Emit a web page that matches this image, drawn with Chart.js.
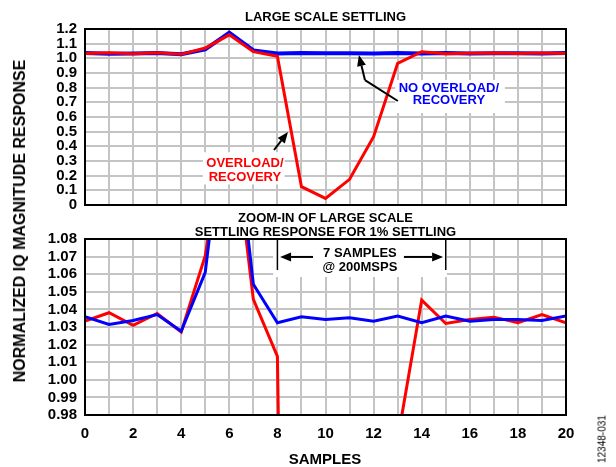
<!DOCTYPE html>
<html>
<head>
<meta charset="utf-8">
<script src="https://cdn.jsdelivr.net/npm/chart.js@4.4.1/dist/chart.umd.min.js"></script>
<style>
  body { margin: 0; background: #fff; }
  #wrap { position: relative; width: 616px; height: 467px; overflow: hidden;
          font-family: "Liberation Sans", Arial, sans-serif; }
  #chartTop { position: absolute; left: 0; top: 0; }
  #chartZoom { position: absolute; left: 0; top: 207px; }
  .lbl { position: absolute; font-weight: bold; color: #000; white-space: nowrap; }
  #yTitle { left: 20px; top: 221px; font-size: 16px; transform: translate(-50%, -50%) rotate(-90deg); }
  #xTitle { left: 325px; top: 458px; font-size: 15px; transform: translate(-50%, -50%); }
  #figId { left: 602px; top: 439px; font-size: 10px; font-weight: normal;
           transform: translate(-50%, -50%) rotate(-90deg); }
</style>
</head>
<body>
<div id="wrap">
  <canvas id="chartTop" width="616" height="227"></canvas>
  <canvas id="chartZoom" width="616" height="260"></canvas>
  <div class="lbl" id="yTitle">NORMALIZED IQ MAGNITUDE RESPONSE</div>
  <div class="lbl" id="xTitle">SAMPLES</div>
  <div class="lbl" id="figId">12348-031</div>
</div>
<script>
// datos
const muestras = [0, 1, 2, 3, 4, 5, 6, 7, 8, 9, 10, 11, 12, 13, 14, 15, 16, 17, 18, 19, 20];
const conSobrecarga = [1.0333, 1.0381, 1.0310, 1.0377, 1.0272, 1.0705, 1.160, 1.0457, 1.0133, 0.125,
  0.045, 0.175, 0.466, 0.966, 1.0453, 1.0320, 1.0343, 1.0356, 1.0324, 1.0371, 1.0324];
const sinSobrecarga = [1.0358, 1.0314, 1.0337, 1.0371, 1.0276, 1.0610, 1.175, 1.0543, 1.0324, 1.0358,
  1.0343, 1.0352, 1.0333, 1.0362, 1.0324, 1.0362, 1.0333, 1.0343, 1.0343, 1.0337, 1.0362];
const ticksGrande = [0, 0.1, 0.2, 0.3, 0.4, 0.5, 0.6, 0.7, 0.8, 0.9, 1.0, 1.1, 1.2];
const ticksZoom = [0.98, 0.99, 1.00, 1.01, 1.02, 1.03, 1.04, 1.05, 1.06, 1.07, 1.08];
const ticksX = [0, 2, 4, 6, 8, 10, 12, 14, 16, 18, 20];

const ROJO = '#ff0000';
const AZUL = '#0000ff';
const GRIS = '#c4c4c4';
const FUENTE = '"Liberation Sans", Arial, sans-serif';

function puntos(serie) {
  return muestras.map((m, i) => ({ x: m, y: serie[i] }));
}

function serie(label, datos, color, grosor) {
  return {
    label: label,
    data: puntos(datos),
    borderColor: color,
    borderWidth: grosor,
    pointRadius: 0,
    tension: 0,
    clip: 0
  };
}

function flecha(ctx, x1, y1, x2, y2) {
  const ang = Math.atan2(y2 - y1, x2 - x1);
  const largo = 11, ancho = 4.5;
  const bx = x2 - largo * Math.cos(ang), by = y2 - largo * Math.sin(ang);
  ctx.beginPath();
  ctx.moveTo(x1, y1);
  ctx.lineTo(bx, by);
  ctx.stroke();
  ctx.beginPath();
  ctx.moveTo(x2, y2);
  ctx.lineTo(bx + ancho * Math.sin(ang), by - ancho * Math.cos(ang));
  ctx.lineTo(bx - ancho * Math.sin(ang), by + ancho * Math.cos(ang));
  ctx.closePath();
  ctx.fill();
}

function texto(ctx, t, x, y, color) {
  ctx.fillStyle = color;
  ctx.font = 'bold 13px ' + FUENTE;
  ctx.textAlign = 'center';
  ctx.textBaseline = 'middle';
  ctx.fillText(t, x, y);
}

// marco negro alrededor del area
const marco = {
  id: 'marco',
  afterDraw(chart) {
    const { ctx, chartArea: a } = chart;
    ctx.save();
    ctx.strokeStyle = '#000';
    ctx.lineWidth = 2;
    ctx.strokeRect(a.left, a.top, a.right - a.left, a.bottom - a.top);
    ctx.restore();
  }
};

const notasGrande = {
  id: 'notasGrande',
  beforeDatasetsDraw(chart) {
    const { ctx, scales: { x, y } } = chart;
    ctx.save();
    ctx.fillStyle = '#fff';
    ctx.fillRect(x.getPixelForValue(4.9), y.getPixelForValue(0.36), x.getPixelForValue(8.3) - x.getPixelForValue(4.9), y.getPixelForValue(0.14) - y.getPixelForValue(0.36));
    ctx.fillRect(x.getPixelForValue(12.9), y.getPixelForValue(0.852), x.getPixelForValue(17.46) - x.getPixelForValue(12.9), y.getPixelForValue(0.627) - y.getPixelForValue(0.852));
    ctx.restore();
  },
  afterDatasetsDraw(chart) {
    const { ctx, chartArea: a, scales: { x, y } } = chart;
    ctx.save();
    texto(ctx, 'LARGE SCALE SETTLING', (a.left + a.right) / 2, a.top - 12, '#000');
    texto(ctx, 'OVERLOAD/', x.getPixelForValue(6.65), y.getPixelForValue(0.286), ROJO);
    texto(ctx, 'RECOVERY', x.getPixelForValue(6.65), y.getPixelForValue(0.19), ROJO);
    texto(ctx, 'NO OVERLOAD/', x.getPixelForValue(15.13), y.getPixelForValue(0.798), AZUL);
    texto(ctx, 'RECOVERY', x.getPixelForValue(15.13), y.getPixelForValue(0.716), AZUL);
    ctx.strokeStyle = '#000';
    ctx.fillStyle = '#000';
    ctx.lineWidth = 2;
    flecha(ctx, x.getPixelForValue(7.86), y.getPixelForValue(0.375), x.getPixelForValue(8.44), y.getPixelForValue(0.498));
    ctx.beginPath();
    ctx.moveTo(x.getPixelForValue(13.01), y.getPixelForValue(0.709));
    ctx.lineTo(x.getPixelForValue(11.64), y.getPixelForValue(0.852));
    ctx.stroke();
    flecha(ctx, x.getPixelForValue(11.64), y.getPixelForValue(0.852), x.getPixelForValue(11.39), y.getPixelForValue(1.022));
    ctx.restore();
  }
};

const notasZoom = {
  id: 'notasZoom',
  beforeDatasetsDraw(chart) {
    const { ctx, scales: { x, y } } = chart;
    ctx.save();
    ctx.fillStyle = '#fff';
    const x0 = x.getPixelForValue(7.82), x1 = x.getPixelForValue(15.05);
    const y0 = y.getPixelForValue(1.08), y1 = y.getPixelForValue(1.0584);
    ctx.fillRect(x0, y0, x1 - x0, y1 - y0);
    ctx.restore();
  },
  afterDatasetsDraw(chart) {
    const { ctx, chartArea: a, scales: { x, y } } = chart;
    ctx.save();
    const cx = (a.left + a.right) / 2;
    texto(ctx, 'ZOOM-IN OF LARGE SCALE', cx, a.top - 21, '#000');
    texto(ctx, 'SETTLING RESPONSE FOR 1% SETTLING', cx, a.top - 7, '#000');
    texto(ctx, '7 SAMPLES', x.getPixelForValue(11.43), y.getPixelForValue(1.072), '#000');
    texto(ctx, '@ 200MSPS', x.getPixelForValue(11.43), y.getPixelForValue(1.064), '#000');
    ctx.strokeStyle = '#000';
    ctx.fillStyle = '#000';
    ctx.lineWidth = 1.5;
    [8, 15].forEach(v => {
      ctx.beginPath();
      ctx.moveTo(x.getPixelForValue(v), y.getPixelForValue(1.08));
      ctx.lineTo(x.getPixelForValue(v), y.getPixelForValue(1.0624));
      ctx.stroke();
    });
    ctx.lineWidth = 2;
    const fy = y.getPixelForValue(1.0698);
    flecha(ctx, x.getPixelForValue(9.48), fy, x.getPixelForValue(8.11), fy);
    flecha(ctx, x.getPixelForValue(13.26), fy, x.getPixelForValue(14.89), fy);
    ctx.restore();
  }
};

function opciones(ticksY, decimales, conX, padTop, alturaX) {
  return {
    responsive: false,
    animation: false,
    layout: { padding: { top: padTop, right: 50, bottom: 0, left: 0 } },
    plugins: { legend: { display: false }, tooltip: { enabled: false } },
    scales: {
      x: {
        type: 'linear',
        min: 0,
        max: 20,
        grid: { color: GRIS, lineWidth: 2, drawTicks: false },
        border: { display: false },
        afterBuildTicks(scale) {
          scale.ticks = muestras.map(v => ({ value: v }));
        },
        ticks: {
          display: conX,
          autoSkip: false,
          maxRotation: 0,
          padding: 10,
          color: '#000',
          font: { family: FUENTE, size: 15, weight: 'bold' },
          callback: v => (ticksX.includes(v) ? String(v) : '')
        },
        afterFit(scale) { scale.height = alturaX; }
      },
      y: {
        min: ticksY[0],
        max: ticksY[ticksY.length - 1],
        grid: { color: GRIS, lineWidth: 2, drawTicks: false },
        border: { display: false },
        afterBuildTicks(scale) {
          scale.ticks = ticksY.map(v => ({ value: v }));
        },
        ticks: {
          autoSkip: false,
          padding: 8,
          color: '#000',
          font: { family: FUENTE, size: 15, weight: 'bold' },
          callback: v => (v === 0 ? '0' : v.toFixed(decimales))
        },
        afterFit(scale) { scale.width = 85; }
      }
    }
  };
}

function inicializarGraficos() {
  // grafico 1: escala completa (azul encima, mas grueso)
  new Chart(document.getElementById('chartTop'), {
    type: 'line',
    data: {
      datasets: [
        serie('Overload/Recovery', conSobrecarga, ROJO, 3),
        serie('No Overload/Recovery', sinSobrecarga, AZUL, 4)
      ]
    },
    options: opciones(ticksGrande, 1, false, 29, 22),
    plugins: [notasGrande, marco]
  });

  // grafico 2: zoom al 1% (rojo encima)
  new Chart(document.getElementById('chartZoom'), {
    type: 'line',
    data: {
      datasets: [
        serie('No Overload/Recovery', sinSobrecarga, AZUL, 3),
        serie('Overload/Recovery', conSobrecarga, ROJO, 3)
      ]
    },
    options: opciones(ticksZoom, 2, true, 32, 52),
    plugins: [notasZoom, marco]
  });
}

window.addEventListener('DOMContentLoaded', inicializarGraficos);
</script>
</body>
</html>
